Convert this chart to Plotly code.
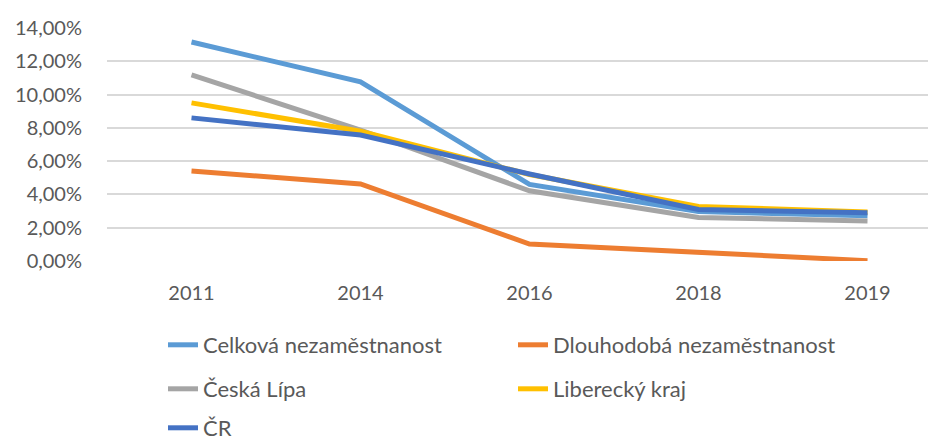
import plotly.graph_objects as go

years = ["2011", "2014", "2016", "2018", "2019"]
celkova = [13.16, 10.76, 4.6, 2.97, 2.72]
dlouhodoba = [5.41, 4.63, 1.02, 0.54, 0.02]
ceska_lipa = [11.18, 7.87, 4.22, 2.62, 2.4]
liberecky = [9.5, 7.8, 5.2, 3.28, 2.95]
cr = [8.6, 7.57, 5.23, 3.1, 2.9]
y_ticks = [0, 2, 4, 6, 8, 10, 12, 14]
y_tick_labels = ["0,00%", "2,00%", "4,00%", "6,00%", "8,00%", "10,00%", "12,00%", "14,00%"]

series = [
    ("Celková nezaměstnanost", celkova, "#5B9BD5", "legend"),
    ("Dlouhodobá nezaměstnanost", dlouhodoba, "#ED7D31", "legend"),
    ("Česká Lípa", ceska_lipa, "#A5A5A5", "legend2"),
    ("Liberecký kraj", liberecky, "#FFC000", "legend2"),
    ("ČR", cr, "#4472C4", "legend3"),
]

FONT = "Lato"
fig = go.Figure()
for name, vals, color, lg in series:
    fig.add_trace(go.Scatter(x=years, y=vals, name=name, mode="lines",
                             line=dict(color=color, width=5), legend=lg))

# page body has an 8px default margin; figure is sized to fit the window
OFF = 8
W, H = 936 - OFF, 443 - OFF
mt, ml = 28 - OFF, 107 - OFF
plot_bottom = 261 - OFF
mb = H - plot_bottom
plot_h = H - mt - mb
plot_w = W - ml

def ly(px):
    return (plot_bottom - (px - OFF)) / plot_h

leg_common = dict(orientation="h", xanchor="left", yanchor="middle", x=(155 - ml) / plot_w,
                  entrywidth=305, font=dict(family=FONT, size=22, color="#595959"),
                  bgcolor="rgba(0,0,0,0)", itemclick=False)

fig.update_layout(
    width=W, height=H,
    margin=dict(l=ml, r=0, t=mt, b=mb, autoexpand=False),
    paper_bgcolor="white", plot_bgcolor="white",
    showlegend=True,
    legend=dict(**leg_common, y=ly(345)),
    legend2=dict(**leg_common, y=ly(389)),
    legend3=dict(**leg_common, y=ly(428)),
    xaxis=dict(type="category", range=[-0.5, -0.5 + plot_w / 169.0], showgrid=False, zeroline=False,
               showline=False, ticks="outside", ticklen=14, tickcolor="rgba(0,0,0,0)",
               tickfont=dict(family=FONT, size=20, color="#595959"), automargin=False),
    yaxis=dict(range=[0, 14], tickvals=y_ticks, ticktext=y_tick_labels,
               showgrid=True, gridcolor="#D9D9D9", gridwidth=1.5, zeroline=False,
               ticks="outside", ticklen=20, tickcolor="rgba(0,0,0,0)",
               tickfont=dict(family=FONT, size=20, color="#595959"), automargin=False),
)

fig.write_html("out.html")
